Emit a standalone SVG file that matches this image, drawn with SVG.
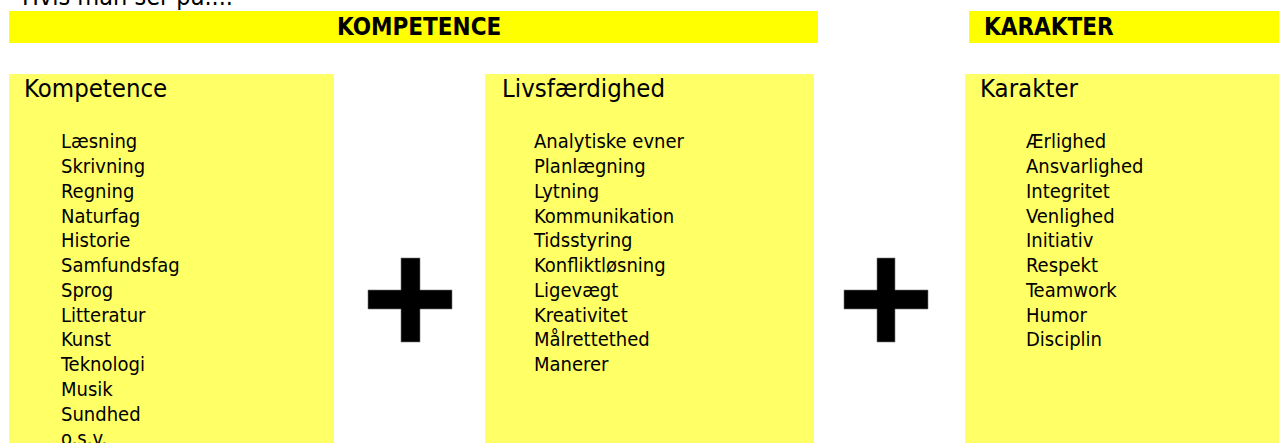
<svg xmlns="http://www.w3.org/2000/svg" width="1279" height="443" viewBox="0 0 1279 443">
<style>
text{font-family:"DejaVu Sans Condensed","DejaVu Sans","Liberation Sans",sans-serif;fill:#000}
.bar{fill:#ffff00}
.box{fill:#ffff66}
.hd{font-size:24px;font-weight:bold}
.ttl{font-size:25.5px}
.it{font-size:20px}
.plus{fill:#000;stroke:#777;stroke-width:0.6}
</style>
<text x="22" y="5" style="font-size:25px">Hvis man ser på....</text>
<g id="header-kompetence">
<rect class="bar" x="9" y="11" width="809" height="32"/>
<text x="337" y="35" class="hd">KOMPETENCE</text>
</g>
<g id="header-karakter">
<rect class="bar" x="969" y="11" width="310" height="32"/>
<text x="984" y="35" class="hd">KARAKTER</text>
</g>
<g id="box-kompetence">
<rect class="box" x="9" y="74" width="325" height="369"/>
<text x="24" y="97" class="ttl">Kompetence</text>
<text class="it" x="61" y="148.3">Læsning</text>
<text class="it" x="61" y="173.05">Skrivning</text>
<text class="it" x="61" y="197.8">Regning</text>
<text class="it" x="61" y="222.55">Naturfag</text>
<text class="it" x="61" y="247.3">Historie</text>
<text class="it" x="61" y="272.05">Samfundsfag</text>
<text class="it" x="61" y="296.8">Sprog</text>
<text class="it" x="61" y="321.55">Litteratur</text>
<text class="it" x="61" y="346.3">Kunst</text>
<text class="it" x="61" y="371.05">Teknologi</text>
<text class="it" x="61" y="395.8">Musik</text>
<text class="it" x="61" y="420.55">Sundhed</text>
<text class="it" x="61" y="445.3">o.s.v.</text>
</g>
<g id="box-livsfaerdighed">
<rect class="box" x="485" y="74" width="329" height="369"/>
<text x="502" y="97" class="ttl">Livsfærdighed</text>
<text class="it" x="534" y="148.3">Analytiske evner</text>
<text class="it" x="534" y="173.05">Planlægning</text>
<text class="it" x="534" y="197.8">Lytning</text>
<text class="it" x="534" y="222.55">Kommunikation</text>
<text class="it" x="534" y="247.3">Tidsstyring</text>
<text class="it" x="534" y="272.05">Konfliktløsning</text>
<text class="it" x="534" y="296.8">Ligevægt</text>
<text class="it" x="534" y="321.55">Kreativitet</text>
<text class="it" x="534" y="346.3">Målrettethed</text>
<text class="it" x="534" y="371.05">Manerer</text>
</g>
<g id="box-karakter">
<rect class="box" x="965" y="74" width="314" height="369"/>
<text x="980" y="97" class="ttl">Karakter</text>
<text class="it" x="1026" y="148.3">Ærlighed</text>
<text class="it" x="1026" y="173.05">Ansvarlighed</text>
<text class="it" x="1026" y="197.8">Integritet</text>
<text class="it" x="1026" y="222.55">Venlighed</text>
<text class="it" x="1026" y="247.3">Initiativ</text>
<text class="it" x="1026" y="272.05">Respekt</text>
<text class="it" x="1026" y="296.8">Teamwork</text>
<text class="it" x="1026" y="321.55">Humor</text>
<text class="it" x="1026" y="346.3">Disciplin</text>
</g>
<g id="connectors">
<path id="plus1" class="plus" d="M401 258H420V290H452V309H420V342H401V309H368V290H401Z"/>
<path id="plus2" class="plus" d="M877 258H895V290H928V309H895V342H877V309H844V290H877Z"/>
</g>
</svg>
